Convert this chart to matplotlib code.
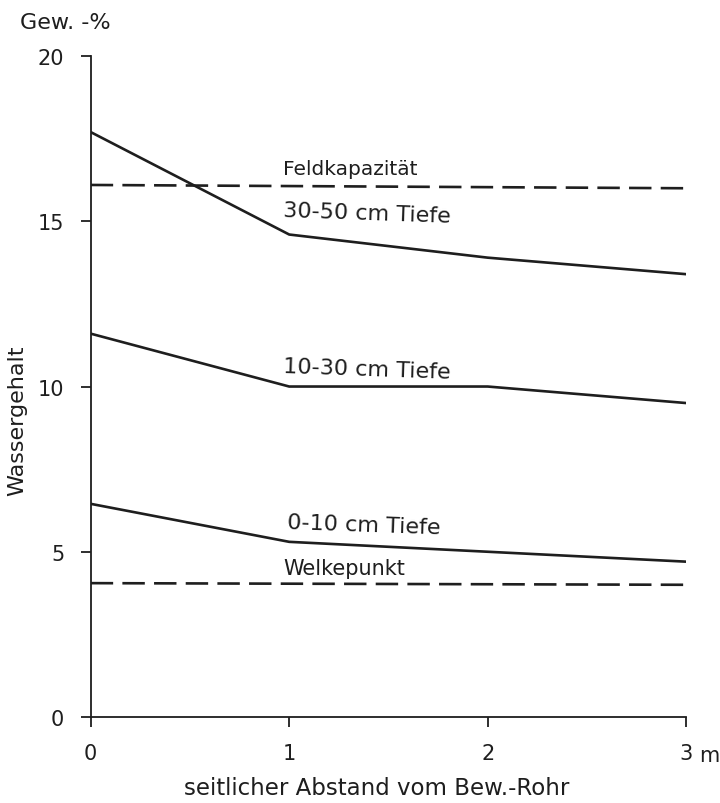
import matplotlib.pyplot as plt

# Abstand vom Rohr (m)
abstand = [0, 1, 2, 3]

# Wassergehalt in Gew.-% je Tiefe
tiefe_30_50 = [17.7, 14.6, 13.9, 13.4]
tiefe_10_30 = [11.6, 10.0, 10.0, 9.5]
tiefe_0_10 = [6.45, 5.3, 5.0, 4.7]

feldkapazitaet = [16.1, 16.0]
welkepunkt = [4.05, 4.0]
grenz_x = [0, 3]

y_ticks = [0, 5, 10, 15, 20]
x_ticks = [0, 1, 2, 3]

ink = '#1e1e1e'
plt.rcParams['font.family'] = ['DejaVu Sans']

fig = plt.figure(figsize=(7.2, 8.04), dpi=100)
ax = fig.add_axes([0.126, 0.107, 0.827, 0.822])

ax.plot(abstand, tiefe_30_50, color=ink, lw=1.9, solid_joinstyle='round')
ax.plot(abstand, tiefe_10_30, color=ink, lw=1.9, solid_joinstyle='round')
ax.plot(abstand, tiefe_0_10, color=ink, lw=1.9, solid_joinstyle='round')
ax.plot(grenz_x, feldkapazitaet, color=ink, lw=1.9, dashes=(8.5, 3.5))
ax.plot(grenz_x, welkepunkt, color=ink, lw=1.9, dashes=(8.5, 3.5))

# Beschriftungen an den Linien
lab = dict(color=ink, ha='left', va='bottom')
ax.text(0.97, 16.3, 'Feldkapazität', fontsize=14.5, **lab)
ax.text(0.97, 14.85, '30-50 cm Tiefe', fontsize=16, rotation=-2, **lab)
ax.text(0.97, 10.15, '10-30 cm Tiefe', fontsize=16, rotation=-2, **lab)
ax.text(0.99, 5.45, '0-10 cm Tiefe', fontsize=16, rotation=-2, **lab)
ax.text(0.97, 4.2, 'Welkepunkt', fontsize=15, **lab)

ax.set_xlim(0, 3)
ax.set_ylim(0, 20)
ax.set_xticks(x_ticks)
ax.set_yticks(y_ticks)
ax.set_xticklabels([str(t) for t in x_ticks])
ax.set_yticklabels([str(t) for t in y_ticks])
ax.text(3.115, -1.15, 'm', fontsize=15, color=ink, ha='center', va='center')

for s in ['top', 'right']:
    ax.spines[s].set_visible(False)
for s in ['left', 'bottom']:
    ax.spines[s].set_color(ink)
    ax.spines[s].set_linewidth(1.3)
ax.tick_params(axis='both', direction='out', length=7, width=1.3, color=ink,
               labelsize=15, labelcolor=ink)
ax.tick_params(axis='x', pad=12)
ax.tick_params(axis='y', pad=12)

ax.set_xlabel('seitlicher Abstand vom Bew.-Rohr', fontsize=16.5, color=ink)
ax.xaxis.set_label_coords(0.48, -0.09)
ax.set_ylabel('Wassergehalt', fontsize=16, color=ink)
ax.yaxis.set_label_coords(-0.106, 0.45)
fig.text(0.028, 0.972, 'Gew. -%', fontsize=16, color=ink, ha='left', va='center')

fig.savefig('out.png', dpi=100)
